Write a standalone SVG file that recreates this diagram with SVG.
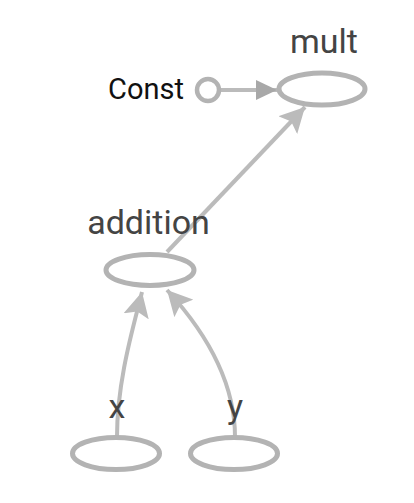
<svg xmlns="http://www.w3.org/2000/svg" width="414" height="503" viewBox="0 0 414 503">
<style>
.node ellipse{fill:#fff;stroke:#b3b3b3;stroke-width:5}
.lbl{font-family:Roboto,"Liberation Sans",sans-serif;font-size:34px;fill:#444;text-anchor:middle}
.const{font-family:Roboto,"Liberation Sans",sans-serif;font-size:29px;fill:#111}
.edge{fill:none;stroke:#bbb;stroke-width:4}
</style>
<defs>
<marker id="ah" markerUnits="userSpaceOnUse" markerWidth="26" markerHeight="26" refX="25" refY="13" orient="auto"><path d="M0,0 L25,13 L0,26 L5,13 z" fill="#bbb"/></marker>
<marker id="ahc" markerUnits="userSpaceOnUse" markerWidth="21" markerHeight="20" refX="21" refY="10" orient="auto"><path d="M0,0 L21,10 L0,20 z" fill="#a8a8a8"/></marker>
</defs>
<g id="connectors">
<path class="edge" d="M221,90 L277,90" marker-end="url(#ahc)"/>
<path class="edge" d="M167,252 L305,107" marker-end="url(#ah)"/>
<path class="edge" d="M117,437 C117,380 134,325 142,292" marker-end="url(#ah)"/>
<path class="edge" d="M235,437 C235,370 190,315 167,290" marker-end="url(#ah)"/>
</g>
<g id="node-const"><circle cx="208" cy="90" r="11" fill="#fff" stroke="#b3b3b3" stroke-width="4.5"/><text class="const" x="108" y="99">Const</text></g>
<g id="node-mult" class="node"><ellipse cx="322" cy="89" rx="43" ry="16"/><text class="lbl" x="324" y="53">mult</text></g>
<g id="node-addition" class="node"><ellipse cx="150" cy="270" rx="44" ry="15.5"/><text class="lbl" x="148.5" y="234">addition</text></g>
<g id="node-x" class="node"><ellipse cx="116" cy="453.5" rx="43.5" ry="16"/><text class="lbl" x="117" y="418">x</text></g>
<g id="node-y" class="node"><ellipse cx="234" cy="453.5" rx="43.5" ry="16"/><text class="lbl" x="235" y="418">y</text></g>
</svg>
